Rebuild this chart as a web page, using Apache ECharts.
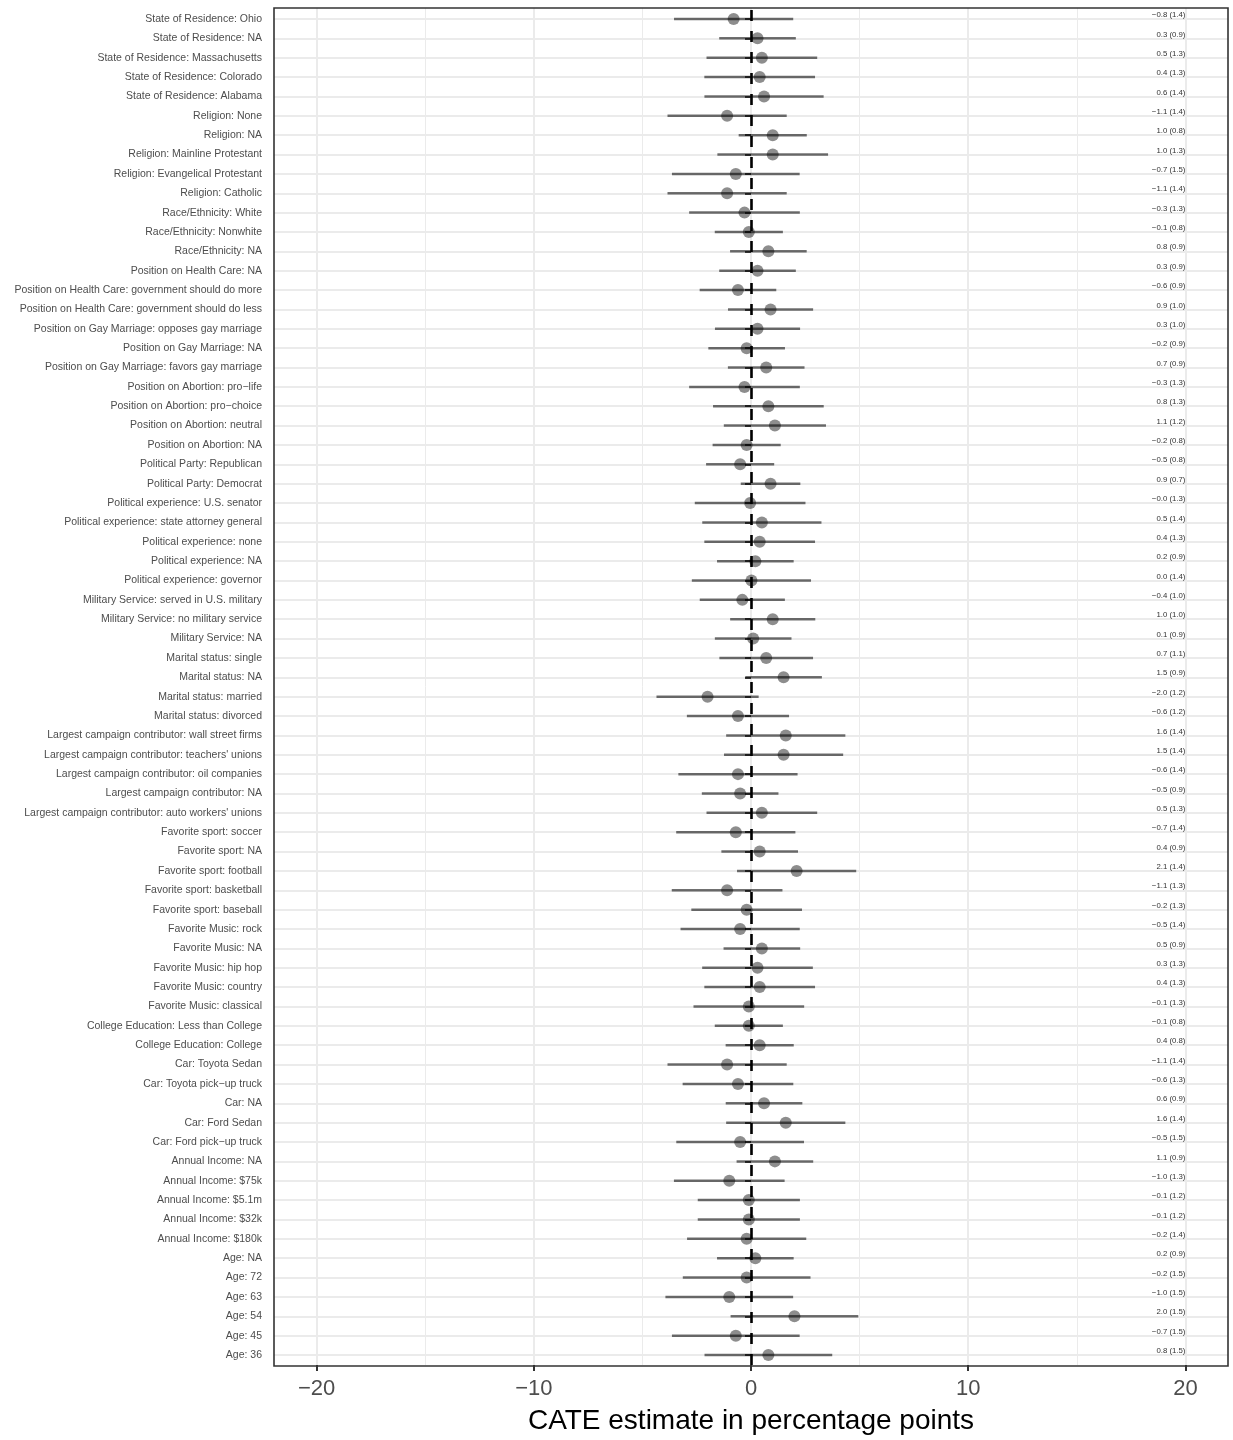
<!DOCTYPE html>
<html>
<head>
<meta charset="utf-8">
<script src="https://cdn.jsdelivr.net/npm/echarts@6/dist/echarts.min.js"></script>
<style>html,body{margin:0;padding:0;background:#fff}#c{width:1233px;height:1440px}</style>
</head>
<body>
<div id="c"></div>
<script>
const categories = [
"State of Residence: Ohio","State of Residence: NA","State of Residence: Massachusetts","State of Residence: Colorado","State of Residence: Alabama",
"Religion: None","Religion: NA","Religion: Mainline Protestant","Religion: Evangelical Protestant","Religion: Catholic",
"Race/Ethnicity: White","Race/Ethnicity: Nonwhite","Race/Ethnicity: NA",
"Position on Health Care: NA","Position on Health Care: government should do more","Position on Health Care: government should do less",
"Position on Gay Marriage: opposes gay marriage","Position on Gay Marriage: NA","Position on Gay Marriage: favors gay marriage",
"Position on Abortion: pro\u2212life","Position on Abortion: pro\u2212choice","Position on Abortion: neutral","Position on Abortion: NA",
"Political Party: Republican","Political Party: Democrat",
"Political experience: U.S. senator","Political experience: state attorney general","Political experience: none","Political experience: NA","Political experience: governor",
"Military Service: served in U.S. military","Military Service: no military service","Military Service: NA",
"Marital status: single","Marital status: NA","Marital status: married","Marital status: divorced",
"Largest campaign contributor: wall street firms","Largest campaign contributor: teachers' unions","Largest campaign contributor: oil companies","Largest campaign contributor: NA","Largest campaign contributor: auto workers' unions",
"Favorite sport: soccer","Favorite sport: NA","Favorite sport: football","Favorite sport: basketball","Favorite sport: baseball",
"Favorite Music: rock","Favorite Music: NA","Favorite Music: hip hop","Favorite Music: country","Favorite Music: classical",
"College Education: Less than College","College Education: College",
"Car: Toyota Sedan","Car: Toyota pick\u2212up truck","Car: NA","Car: Ford Sedan","Car: Ford pick\u2212up truck",
"Annual Income: NA","Annual Income: $75k","Annual Income: $5.1m","Annual Income: $32k","Annual Income: $180k",
"Age: NA","Age: 72","Age: 63","Age: 54","Age: 45","Age: 36"
];
const estimates = [
-0.8,0.3,0.5,0.4,0.6,
-1.1,1.0,1.0,-0.7,-1.1,
-0.3,-0.1,0.8,
0.3,-0.6,0.9,
0.3,-0.2,0.7,
-0.3,0.8,1.1,-0.2,
-0.5,0.9,
-0.04,0.5,0.4,0.2,0.02,
-0.4,1.0,0.1,
0.7,1.5,-2.0,-0.6,
1.6,1.5,-0.6,-0.5,0.5,
-0.7,0.4,2.1,-1.1,-0.2,
-0.5,0.5,0.3,0.4,-0.1,
-0.1,0.4,
-1.1,-0.6,0.6,1.6,-0.5,
1.1,-1.0,-0.1,-0.1,-0.2,
0.2,-0.2,-1.0,2.0,-0.7,0.8
];
const stdErrors = [
1.4,0.9,1.3,1.3,1.4,
1.4,0.8,1.3,1.5,1.4,
1.3,0.8,0.9,
0.9,0.9,1.0,
1.0,0.9,0.9,
1.3,1.3,1.2,0.8,
0.8,0.7,
1.3,1.4,1.3,0.9,1.4,
1.0,1.0,0.9,
1.1,0.9,1.2,1.2,
1.4,1.4,1.4,0.9,1.3,
1.4,0.9,1.4,1.3,1.3,
1.4,0.9,1.3,1.3,1.3,
0.8,0.8,
1.4,1.3,0.9,1.4,1.5,
0.9,1.3,1.2,1.2,1.4,
0.9,1.5,1.5,1.5,1.5,1.5
];
const xTicks = [-20, -10, 0, 10, 20];
const zCrit = 1.96;

const fmt = v => (v < 0 ? '\u2212' : '') + Math.abs(v).toFixed(1);
const ciData = categories.map((c, i) => [estimates[i] - zCrit * stdErrors[i], estimates[i] + zCrit * stdErrors[i], i]);
const pointData = categories.map((c, i) => [estimates[i], i]);
const labelData = categories.map((c, i) => [xTicks[xTicks.length - 1], i, fmt(estimates[i]) + ' (' + stdErrors[i].toFixed(1) + ')']);

const FONT = 'Liberation Sans, Arial, Helvetica, sans-serif';
const PL = 274, PR = 1228, PT = 8, PB = 1366;
const XMIN = -21.96, XMAX = 21.96;
const pxPerUnit = (PR - PL) / (XMAX - XMIN);
const x20L = PL + (-20 - XMIN) * pxPerUnit;
const x20W = 40 * pxPerUnit;

const chart = echarts.init(document.getElementById('c'), null, {renderer: 'canvas'});
chart.setOption({
  animation: false,
  backgroundColor: '#ffffff',
  textStyle: {fontFamily: FONT},
  grid: [
    {left: PL, top: 19, width: PR - PL, height: 1336, containLabel: false},
    {left: x20L, top: PT, width: x20W, height: PB - PT, containLabel: false},
    {left: PL, top: PT, width: PR - PL, height: PB - PT, show: true, borderColor: '#333333', borderWidth: 1.6, backgroundColor: 'transparent', z: 5}
  ],
  xAxis: [
    {gridIndex: 0, type: 'value', min: XMIN, max: XMAX, show: false},
    {gridIndex: 1, type: 'value', min: -20, max: 20, interval: 10,
     axisLine: {show: false},
     axisTick: {show: true, length: 6, lineStyle: {color: '#333333', width: 2}},
     axisLabel: {fontSize: 22, color: '#4d4d4d', margin: 13, fontFamily: FONT, formatter: v => (v < 0 ? '\u2212' + Math.abs(v) : '' + v)},
     splitLine: {show: true, lineStyle: {color: '#ebebeb', width: 2}},
     minorTick: {show: false, splitNumber: 2},
     minorSplitLine: {show: true, lineStyle: {color: '#ebebeb', width: 1}},
     name: 'CATE estimate in percentage points', nameLocation: 'middle', nameGap: 42,
     nameTextStyle: {fontSize: 28, color: '#000000', fontFamily: FONT}
    },
    {gridIndex: 2, type: 'value', min: 0, max: 1, show: false}
  ],
  yAxis: [
    {gridIndex: 0, type: 'category', data: categories, inverse: true, boundaryGap: false,
     axisLine: {show: false},
     axisTick: {show: true, length: 6, interval: 0, lineStyle: {color: '#333333', width: 1.8}},
     axisLabel: {interval: 0, fontSize: 10.5, color: '#4d4d4d', margin: 12, fontFamily: FONT},
     splitLine: {show: true, interval: 0, lineStyle: {color: '#ebebeb', width: 2}}
    },
    {gridIndex: 1, type: 'value', min: 0, max: 1, show: false},
    {gridIndex: 2, type: 'value', min: 0, max: 1, show: false}
  ],
  series: [
    {
      type: 'custom', xAxisIndex: 0, yAxisIndex: 0, z: 3,
      data: ciData,
      encode: {x: [0, 1], y: 2},
      renderItem: (params, api) => {
        const a = api.coord([api.value(0), api.value(2)]);
        const b = api.coord([api.value(1), api.value(2)]);
        return {type: 'line', shape: {x1: a[0], y1: a[1], x2: b[0], y2: b[1]},
                style: {stroke: 'rgba(0,0,0,0.56)', lineWidth: 2.5}};
      },
      silent: true
    },
    {
      type: 'scatter', xAxisIndex: 0, yAxisIndex: 0, z: 4,
      data: pointData, symbol: 'circle', symbolSize: 12,
      itemStyle: {color: 'rgba(0,0,0,0.56)', borderWidth: 0},
      silent: true
    },
    {
      type: 'custom', xAxisIndex: 0, yAxisIndex: 0, z: 4,
      data: labelData,
      encode: {x: 0, y: 1},
      renderItem: (params, api) => {
        const p = api.coord([api.value(0), api.value(1)]);
        return {type: 'text', x: p[0], y: p[1] - 4,
                style: {text: labelData[params.dataIndex][2], align: 'right', verticalAlign: 'middle',
                        fontSize: 7.8, fill: '#333333', fontFamily: FONT}};
      },
      silent: true
    },
    {
      type: 'scatter', xAxisIndex: 1, yAxisIndex: 1, z: 10, data: [], silent: true,
      markLine: {
        silent: true, symbol: ['none', 'none'], label: {show: false},
        lineStyle: {color: '#000000', width: 2.6, type: [11, 10]},
        data: [{xAxis: 0}]
      }
    }
  ]
});
</script>
</body>
</html>
